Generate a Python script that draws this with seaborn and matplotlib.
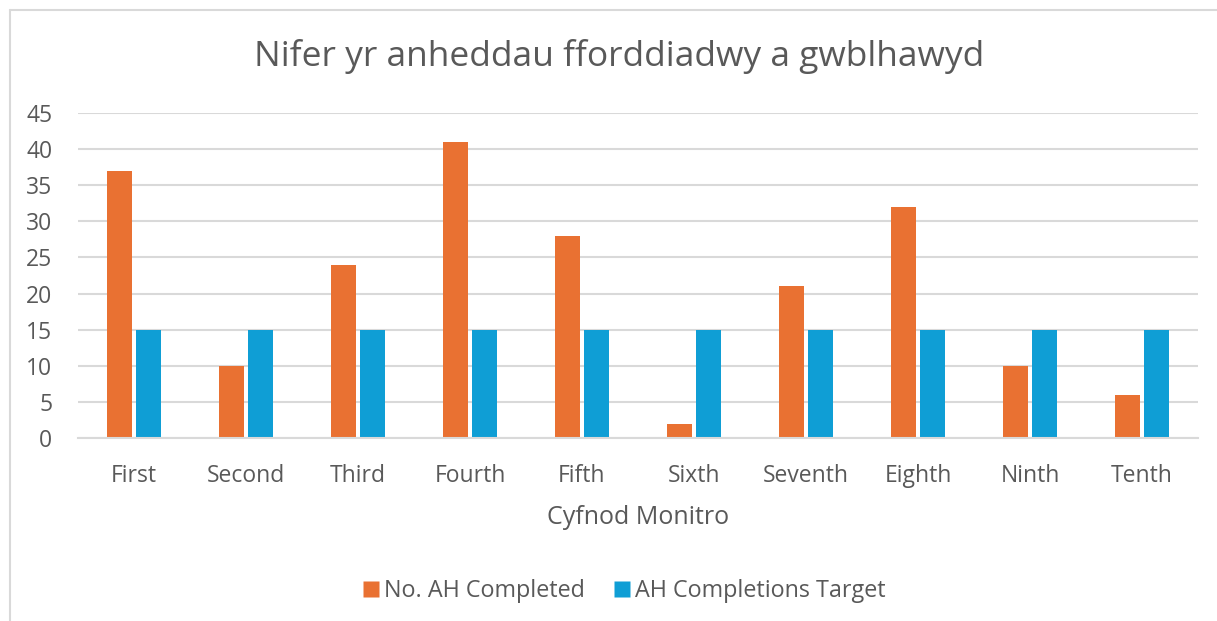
import matplotlib
matplotlib.use("Agg")
import matplotlib.pyplot as plt
import seaborn as sns
import pandas as pd
from matplotlib.lines import Line2D

categories = ["First", "Second", "Third", "Fourth", "Fifth", "Sixth", "Seventh", "Eighth", "Ninth", "Tenth"]
completed = [37, 10, 24, 41, 28, 2, 21, 32, 10, 6]
target = [15, 15, 15, 15, 15, 15, 15, 15, 15, 15]
series_names = ["No. AH Completed", "AH Completions Target"]
y_ticks = [0, 5, 10, 15, 20, 25, 30, 35, 40, 45]

df = pd.DataFrame({
    "period": categories * 2,
    "value": completed + target,
    "series": [series_names[0]] * len(categories) + [series_names[1]] * len(categories),
})

sns.set_theme(style="white")
plt.rcParams["font.family"] = ["Open Sans", "DejaVu Sans"]
text_color = "#595959"
grid_color = "#D9D9D9"
colors = ["#E97132", "#0F9ED5"]

fig = plt.figure(figsize=(12.17, 6.21), dpi=100)
ax = fig.add_axes([78 / 1217, 1 - 438 / 621, 1120 / 1217, 325 / 621])

sns.barplot(data=df, x="period", y="value", hue="series", order=categories,
            hue_order=series_names, palette=colors, width=0.51, gap=0.12,
            saturation=1, ax=ax, legend=False, edgecolor="none")

ax.set_ylim(0, 45)
ax.set_xlim(-0.5, len(categories) - 0.5)
ax.set_yticks(y_ticks)
ax.yaxis.grid(True, color=grid_color, linewidth=1.5)
ax.set_axisbelow(True)
for s in ["top", "right", "left"]:
    ax.spines[s].set_visible(False)
ax.spines["bottom"].set_color(grid_color)
ax.spines["bottom"].set_linewidth(1.5)
ax.tick_params(axis="both", length=0, labelsize=16.5, colors=text_color)
ax.tick_params(axis="x", pad=19)
ax.tick_params(axis="y", pad=18.5)
ax.set_ylabel("")
ax.set_xlabel("Cyfnod Monitro", fontsize=18, color=text_color, labelpad=12)

fig.text(619 / 1217, 1 - 57 / 621, "Nifer yr anheddau fforddiadwy a gwblhawyd",
         ha="center", va="center", fontsize=25.5, color=text_color)

handles = [Line2D([0], [0], marker="s", linestyle="none", markersize=11,
                  markerfacecolor=c, markeredgecolor="none") for c in colors]
fig.legend(handles, series_names, loc="center", bbox_to_anchor=(624 / 1217, 1 - 591 / 621),
           ncol=2, frameon=False, fontsize=16.8, labelcolor=text_color,
           handletextpad=0.15, columnspacing=1.2, handlelength=0.8)

# chart area border (left and top visible)
fig.add_artist(Line2D([10 / 1217, 10 / 1217], [0, 1 - 10 / 621], transform=fig.transFigure,
                      color=grid_color, linewidth=1.5))
fig.add_artist(Line2D([10 / 1217, 1], [1 - 10 / 621, 1 - 10 / 621], transform=fig.transFigure,
                      color=grid_color, linewidth=1.5))

fig.savefig("out.png", dpi=100, facecolor="white")
